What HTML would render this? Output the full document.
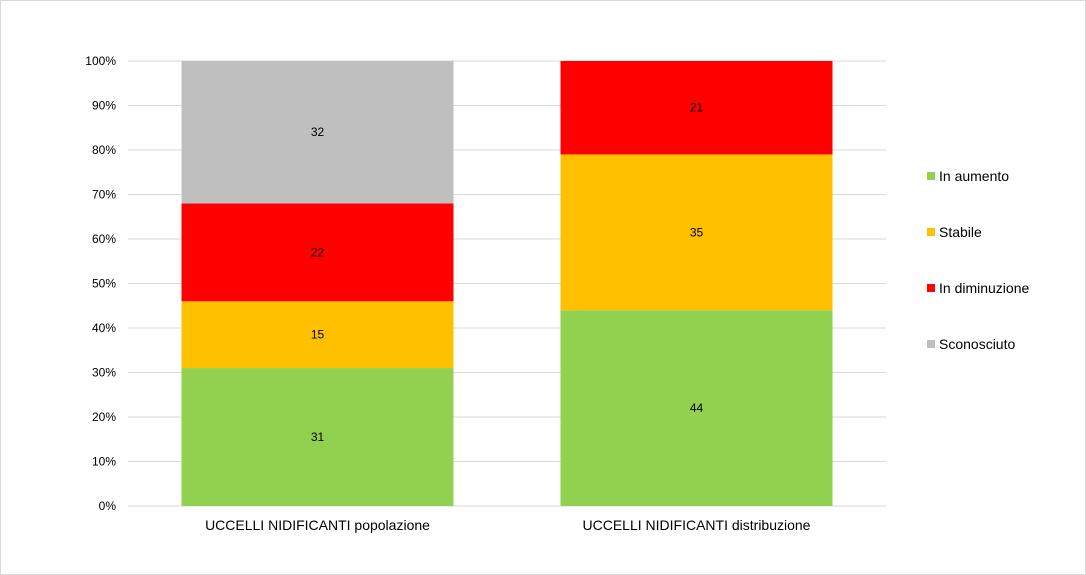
<!DOCTYPE html>
<html><head><meta charset="utf-8"><style>
body{margin:0;background:#fff}
svg{display:block;font-family:"Liberation Sans",Arial,sans-serif}
</style></head><body>
<svg id="chart" width="1086" height="575" viewBox="0 0 1086 575">
<rect x="0.5" y="0.5" width="1085" height="574" fill="#fff" stroke="#d9d9d9"/>
<g id="grid"></g><g id="bars"></g><g id="axes"></g><g id="legend"></g>
</svg>
<script>
const categories=["UCCELLI NIDIFICANTI popolazione","UCCELLI NIDIFICANTI distribuzione"];
const seriesNames=["In aumento","Stabile","In diminuzione","Sconosciuto"];
const seriesColors=["#92d050","#ffc000","#ff0000","#bfbfbf"];
const inAumento=[31,44];
const stabile=[15,35];
const inDiminuzione=[22,21];
const sconosciuto=[32,0];
const yTicks=[0,10,20,30,40,50,60,70,80,90,100];
const series=[inAumento,stabile,inDiminuzione,sconosciuto];
const NS="http://www.w3.org/2000/svg";
const x0=128,x1=886,y0=506,y1=61;
const y=p=>y0-(y0-y1)*p/100;
const band=(x1-x0)/categories.length;
const bw=272;
function mk(t,a,parent,txt){const e=document.createElementNS(NS,t);for(const k in a)e.setAttribute(k,a[k]);if(txt!==undefined)e.textContent=txt;document.getElementById(parent).appendChild(e);return e;}
yTicks.forEach(t=>{
 const l=mk('line',{x1:x0,x2:x1,y1:y(t),y2:y(t),stroke:t===0?'#d9d9d9':'#d9d9d9','stroke-width':1},'grid');
 
 
 const tx=mk('text',{x:116,y:y(t)+4,'text-anchor':'end','font-size':12,fill:'#000'},'axes',t+'%');
 
 
});
categories.forEach((c,i)=>{
 const cx=x0+band*(i+0.5);
 let cum=0;
 series.forEach((s,j)=>{
  const v=s[i]; if(!v){return;}
  const tot=series.reduce((a,ss)=>a+ss[i],0);
  const p0=cum/tot*100,p1=(cum+v)/tot*100;cum+=v;
  const r=mk('rect',{x:cx-bw/2,y:y(p1),width:bw,height:y(p0)-y(p1),fill:seriesColors[j]},'bars');
  
  
  const t=mk('text',{x:cx,y:(y(p0)+y(p1))/2+4,'text-anchor':'middle','font-size':12,fill:'#000'},'bars',v);
  
  
 });
 const lt=mk('text',{x:cx,y:530,'text-anchor':'middle','font-size':14,fill:'#000'},'axes',c);
 
 
});
seriesNames.forEach((n,j)=>{
 const ly=176+j*56;
 const r=mk('rect',{x:927,y:ly-4,width:8,height:8,fill:seriesColors[j]},'legend');
 
 
 const t=mk('text',{x:939,y:ly+5,'font-size':14,fill:'#000'},'legend',n);
 
 
});
</script>
</body></html>
